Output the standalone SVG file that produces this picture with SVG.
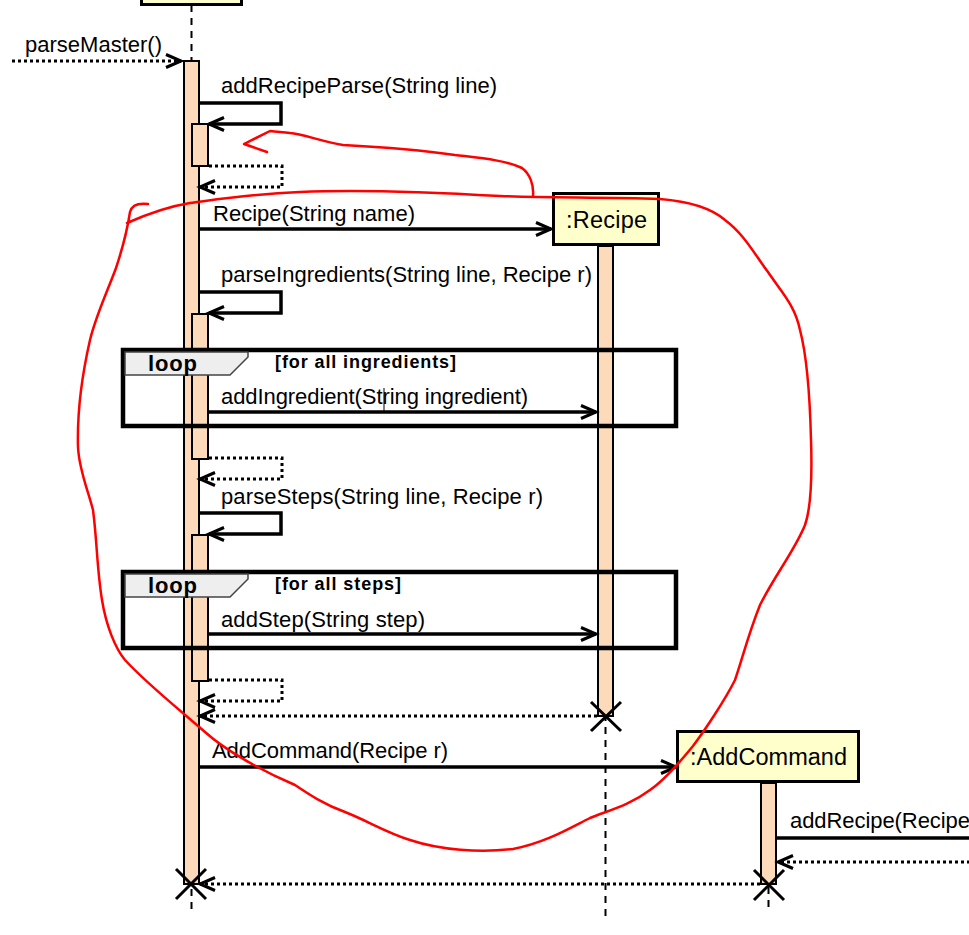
<svg xmlns="http://www.w3.org/2000/svg" width="969" height="935" viewBox="0 0 969 935">
<style>
  .msg { font-family: "Liberation Sans", Arial, sans-serif; font-size: 22px; fill: #000; }
  .name { font-family: "Liberation Sans", Arial, sans-serif; font-size: 23.5px; fill: #000; }
  .bold { font-family: "Liberation Sans", Arial, sans-serif; font-weight: bold; fill: #000; }
  .life { stroke: #000; stroke-width: 2; stroke-dasharray: 7 6; fill: none; }
  .bar { fill: #FDDAB9; stroke: #000; stroke-width: 2; }
  .obj { fill: #FFFFCC; stroke: #000; stroke-width: 3; }
  .solid { stroke: #000; stroke-width: 3.5; fill: none; }
  .dot { stroke: #000; stroke-width: 3; fill: none; stroke-dasharray: 3 3; }
  .frame { fill: none; stroke: #000; stroke-width: 4.5; }
  .tab { fill: #EEEEEE; stroke: #444; stroke-width: 1.5; }
  .x { stroke: #000; stroke-width: 3; }
  .red { stroke: #FF0000; stroke-width: 2.5; fill: none; stroke-linecap: round; stroke-linejoin: round; }
</style>
<defs>
  <marker id="arr" markerUnits="userSpaceOnUse" markerWidth="20" markerHeight="18" refX="16" refY="8" orient="auto">
    <path d="M1,1.5 L16,8 L1,14.5" fill="none" stroke="#000" stroke-width="3"/>
  </marker>
</defs>

<g id="lifelines">
  <line class="life" x1="191.5" y1="5" x2="191.5" y2="912"/>
  <line class="life" x1="605.5" y1="246" x2="605.5" y2="916"/>
  <line class="life" x1="768.5" y1="783" x2="768.5" y2="912"/>
</g>

<g id="node-main">
  <rect class="obj" x="141.5" y="-6" width="100" height="10.5"/>
  <rect class="bar" x="184" y="61" width="15" height="823"/>
  <rect class="bar" x="192" y="124" width="16" height="42"/>
  <rect class="bar" x="192" y="314" width="16" height="145"/>
  <rect class="bar" x="192" y="535" width="16" height="146"/>
</g>

<g id="node-recipe">
  <rect class="bar" x="598" y="246" width="15" height="470"/>
  <rect class="obj" x="553.5" y="193.5" width="105" height="51"/>
  <text class="name" x="566" y="228" textLength="81">:Recipe</text>
</g>

<g id="node-addcommand">
  <rect class="bar" x="761" y="783" width="15" height="101"/>
  <rect class="obj" x="677.5" y="731.5" width="181" height="50"/>
  <text class="name" x="690" y="765" textLength="157">:AddCommand</text>
</g>

<g id="loop-ingredients">
  <rect class="frame" x="123" y="350" width="553" height="76"/>
  <polygon class="tab" points="125,352 248,352 248,357 230,375 125,375"/>
  <text class="bold" x="148" y="371" font-size="22" textLength="49">loop</text>
  <text class="bold" x="275" y="368" font-size="18" textLength="181">[for all ingredients]</text>
</g>

<g id="loop-steps">
  <rect class="frame" x="123" y="572" width="553" height="76"/>
  <polygon class="tab" points="125,574 248,574 248,579 230,597 125,597"/>
  <text class="bold" x="148" y="593" font-size="22" textLength="49">loop</text>
  <text class="bold" x="275" y="590" font-size="18" textLength="126">[for all steps]</text>
</g>

<g id="connectors">
  <line class="dot" x1="12" y1="61" x2="181" y2="61" marker-end="url(#arr)"/>
  <path class="solid" d="M199,103 H281 V124 H209" marker-end="url(#arr)"/>
  <path class="dot" d="M209,166 H282 V187 H200" marker-end="url(#arr)"/>
  <line class="solid" x1="199" y1="229" x2="551" y2="229" marker-end="url(#arr)"/>
  <path class="solid" d="M199,292 H281 V313 H209" marker-end="url(#arr)"/>
  <line class="solid" x1="208" y1="412" x2="596" y2="412" marker-end="url(#arr)"/>
  <path class="dot" d="M209,458 H282 V479 H200" marker-end="url(#arr)"/>
  <path class="solid" d="M199,513 H281 V534 H209" marker-end="url(#arr)"/>
  <line class="solid" x1="208" y1="634" x2="596" y2="634" marker-end="url(#arr)"/>
  <path class="dot" d="M209,680 H282 V701 H200" marker-end="url(#arr)"/>
  <line class="dot" x1="597" y1="716" x2="200" y2="716" marker-end="url(#arr)"/>
  <line class="solid" x1="199" y1="767" x2="676" y2="767" marker-end="url(#arr)"/>
  <line class="solid" x1="777" y1="838" x2="970" y2="838"/>
  <line class="dot" x1="970" y1="862" x2="778" y2="862" marker-end="url(#arr)"/>
  <line class="dot" x1="760" y1="884" x2="200" y2="884" marker-end="url(#arr)"/>
</g>

<g id="labels">
  <text class="msg" x="25" y="52" textLength="137">parseMaster()</text>
  <text class="msg" x="221" y="93" textLength="276">addRecipeParse(String line)</text>
  <text class="msg" x="213" y="221" textLength="202">Recipe(String name)</text>
  <text class="msg" x="221" y="282" textLength="371">parseIngredients(String line, Recipe r)</text>
  <text class="msg" x="221" y="404" textLength="307">addIngredient(String ingredient)</text>
  <text class="msg" x="221" y="504" textLength="322">parseSteps(String line, Recipe r)</text>
  <text class="msg" x="221" y="627" textLength="204">addStep(String step)</text>
  <text class="msg" x="212" y="758" textLength="236">AddCommand(Recipe r)</text>
  <text class="msg" x="790" y="828" textLength="180">addRecipe(Recipe</text>
  <line x1="384" y1="388" x2="384" y2="413" stroke="#000" stroke-width="1"/>
</g>

<g id="destroy">
  <path class="x" d="M591,702 L621,731 M621,702 L591,731"/>
  <path class="x" d="M176,869 L206,899 M206,869 L176,899"/>
  <path class="x" d="M754,870 L784,900 M784,870 L754,900"/>
</g>

<g id="annotation">
  <path class="red" d="M533,196 C534,185 530,174 522,168 C505,160 480,158 455,155 C420,150 380,147 343,145 C320,141 303,134 290,133 C282,132 277,132 270,131 L244,144 L267,152"/>
  <path class="red" d="M148,204 C140,203 132,204 130,212 C128,225 122,250 116,268 C108,290 96,315 90,340 C82,375 77,410 78,447 C79,470 88,490 93,510 C97,540 97,570 102,600 C106,625 115,648 125,660 C145,682 175,706 205,732 C225,750 260,770 295,785 C310,795 325,805 345,812 C370,822 385,832 410,840 C440,850 480,853 513,849 C545,843 570,828 590,818 C610,810 630,805 650,790 C665,780 680,762 693,746 C705,730 725,700 735,680 C742,660 748,635 760,605 C775,575 795,550 805,525 C812,505 812,470 811,440 C810,400 808,360 800,330 C795,305 780,290 768,272 C755,255 745,235 725,220 C710,207 685,201 660,199 C600,197 550,198 500,196 C430,192 360,189 300,192 C250,194 220,199 190,203 C165,207 145,215 127,223"/>
</g>
</svg>
